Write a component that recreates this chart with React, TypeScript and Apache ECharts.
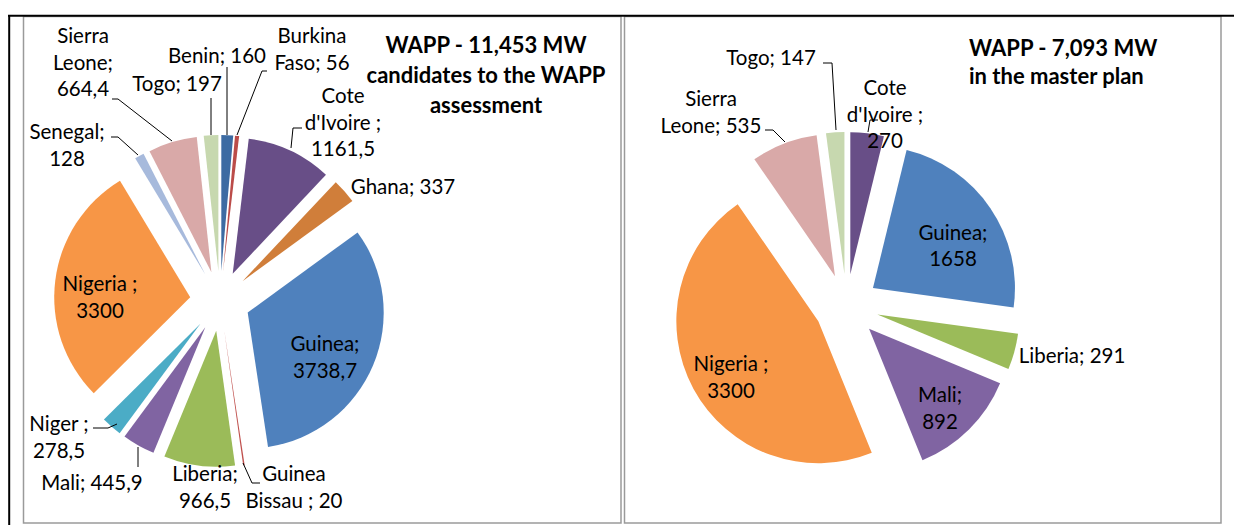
import React, { useEffect, useRef } from "react";
import * as echarts from "echarts";

// ---------- data ----------
const leftCategories = [
  "Benin", "Burkina Faso", "Cote d'Ivoire", "Ghana", "Guinea", "Guinea Bissau",
  "Liberia", "Mali", "Niger", "Nigeria", "Senegal", "Sierra Leone", "Togo",
];
const leftValues = [160, 56, 1161.5, 337, 3738.7, 20, 966.5, 445.9, 278.5, 3300, 128, 664.4, 197];

const rightCategories = ["Cote d'Ivoire", "Guinea", "Liberia", "Mali", "Nigeria", "Sierra Leone", "Togo"];
const rightValues = [270, 1658, 291, 892, 3300, 535, 147];

const leftTitle = ["WAPP - 11,453 MW", "candidates to the WAPP", "assessment"];
const rightTitle = ["WAPP - 7,093 MW", "in the master plan"];

// ---------- styles ----------
const countryColors: Record<string, string> = {
  "Benin": "#3D6BA2",
  "Burkina Faso": "#BB4C49",
  "Cote d'Ivoire": "#684E87",
  "Ghana": "#D07E3A",
  "Guinea": "#4F81BD",
  "Guinea Bissau": "#C0504D",
  "Liberia": "#9BBB59",
  "Mali": "#8064A2",
  "Niger": "#4BACC6",
  "Nigeria": "#F79646",
  "Senegal": "#A7BADC",
  "Sierra Leone": "#D9A9A8",
  "Togo": "#C7D8AF",
};

// label line-break templates ({v} = value)
const leftTpl: Record<string, string> = {
  "Benin": "Benin; {v}",
  "Burkina Faso": "Burkina\nFaso; {v}",
  "Cote d'Ivoire": "Cote\nd'Ivoire ;\n{v}",
  "Ghana": "Ghana; {v}",
  "Guinea": "Guinea;\n{v}",
  "Guinea Bissau": "Guinea\nBissau ; {v}",
  "Liberia": "Liberia;\n{v}",
  "Mali": "Mali; {v}",
  "Niger": "Niger ;\n{v}",
  "Nigeria": "Nigeria ;\n{v}",
  "Senegal": "Senegal;\n{v}",
  "Sierra Leone": "Sierra\nLeone;\n{v}",
  "Togo": "Togo; {v}",
};
const rightTpl: Record<string, string> = {
  "Cote d'Ivoire": "Cote\nd'Ivoire ;\n{v}",
  "Guinea": "Guinea;\n{v}",
  "Liberia": "Liberia; {v}",
  "Mali": "Mali;\n{v}",
  "Nigeria": "Nigeria ;\n{v}",
  "Sierra Leone": "Sierra\nLeone; {v}",
  "Togo": "Togo; {v}",
};

// label centers (layout)
const leftLabelPos: Record<string, [number, number]> = {
  "Benin": [217, 55],
  "Burkina Faso": [312, 48.5],
  "Cote d'Ivoire": [343, 121.5],
  "Ghana": [403, 186],
  "Guinea": [325, 356.5],
  "Guinea Bissau": [294, 486.5],
  "Liberia": [205, 486.5],
  "Mali": [92, 482],
  "Niger": [59, 436.5],
  "Nigeria": [100, 296.5],
  "Senegal": [67, 144.5],
  "Sierra Leone": [83, 61.5],
  "Togo": [177, 83],
};
const rightLabelPos: Record<string, [number, number]> = {
  "Cote d'Ivoire": [885, 113.5],
  "Guinea": [953, 245],
  "Liberia": [1072, 355],
  "Mali": [940, 407.5],
  "Nigeria": [731, 376.5],
  "Sierra Leone": [711, 111.5],
  "Togo": [771, 57],
};

const leaderLines: number[][][] = [
  [[112, 99], [118, 99], [172, 141]],
  [[211, 98], [211, 135]],
  [[227, 67], [227, 135]],
  [[267, 71], [262, 71], [237, 135]],
  [[302, 128], [293, 128], [291, 148]],
  [[111, 137], [118, 137], [138, 155]],
  [[93, 428], [108, 428], [117, 424]],
  [[138, 467], [138, 447]],
  [[260, 483], [252, 483], [243, 463]],
  [[765, 130], [773, 130], [785, 142]],
  [[823, 63], [832, 63], [836, 130]],
  [[878, 120], [870, 120], [868, 132]],
];

const FONT = "Lato, 'Noto Sans', sans-serif";
const LABEL_SIZE = 20.5;
const LABEL_LH = 26.5;

const fmt = (v: number) => String(v).replace(".", ",");

function labelTexts(cats: string[], vals: number[], tpl: Record<string, string>, pos: Record<string, [number, number]>) {
  return cats.map((c, i) => {
    const text = tpl[c].replace("{v}", fmt(vals[i]));
    const nLines = text.split("\n").length;
    const [cx, cy] = pos[c];
    return {
      type: "text",
      x: cx,
      y: cy - (nLines * LABEL_LH) / 2,
      z: 10,
      style: {
        text,
        fontFamily: FONT,
        fontSize: LABEL_SIZE,
        lineHeight: LABEL_LH,
        fill: "#000",
        align: "center",
        verticalAlign: "top",
      },
    };
  });
}

function buildSeries(cats: string[], vals: number[], center: [number, number], radius: number, offset: number) {
  return {
    type: "pie",
    center,
    radius,
    startAngle: 90,
    clockwise: true,
    selectedMode: "multiple",
    selectedOffset: offset,
    avoidLabelOverlap: false,
    emphasis: { disabled: true },
    itemStyle: { borderWidth: 0 },
    labelLine: { show: false },
    label: { show: false },
    data: cats.map((c, i) => ({
      name: c,
      value: vals[i],
      selected: true,
      itemStyle: { color: countryColors[c] },
    })),
  };
}

export default function App() {
  const ref = useRef<HTMLDivElement>(null);
  useEffect(() => {
    if (!ref.current) return;
    const chart = echarts.init(ref.current, undefined, { renderer: "svg" });

    const graphics: any[] = [
      { type: "rect", shape: { x: 0, y: 0, width: 1234, height: 525 }, style: { fill: "#fff" }, z: -10 },
      { type: "rect", shape: { x: 23.5, y: 16.5, width: 597.5, height: 506.5 }, style: { fill: "none", stroke: "#9a9a9a", lineWidth: 1.5 }, z: -5 },
      { type: "rect", shape: { x: 624.5, y: 16.5, width: 596.5, height: 506.5 }, style: { fill: "none", stroke: "#9a9a9a", lineWidth: 1.5 }, z: -5 },
      { type: "line", shape: { x1: 8, y1: 15.8, x2: 1234, y2: 15.8 }, style: { stroke: "#000", lineWidth: 2 } },
      { type: "line", shape: { x1: 9.2, y1: 15, x2: 9.2, y2: 525 }, style: { stroke: "#000", lineWidth: 2 } },
      ...leaderLines.map((pts) => ({
        type: "polyline",
        shape: { points: pts },
        style: { stroke: "#000", lineWidth: 1, fill: "none" },
        z: 5,
      })),
      ...labelTexts(leftCategories, leftValues, leftTpl, leftLabelPos),
      ...labelTexts(rightCategories, rightValues, rightTpl, rightLabelPos),
      {
        type: "text",
        x: 486, y: 44 - 15,
        style: {
          text: leftTitle.join("\n"), fontFamily: FONT, fontWeight: "bold", fontSize: 22,
          lineHeight: 30, fill: "#000", align: "center", verticalAlign: "top",
        },
      },
      {
        type: "text",
        x: 969, y: 47 - 14,
        style: {
          text: rightTitle.join("\n"), fontFamily: FONT, fontWeight: "bold", fontSize: 22,
          lineHeight: 28, fill: "#000", align: "left", verticalAlign: "top",
        },
      },
    ];

    chart.setOption({
      animation: false,
      backgroundColor: "#fff",
      graphic: graphics,
      series: [
        buildSeries(leftCategories, leftValues, [220, 301], 136, 30),
        buildSeries(rightCategories, rightValues, [846.5, 306], 142, 32),
      ],
    });
    return () => chart.dispose();
  }, []);
  return (
    <div
      ref={ref}
      style={{ position: "absolute", left: 0, top: 0, width: 1234, height: 525 }}
    />
  );
}
